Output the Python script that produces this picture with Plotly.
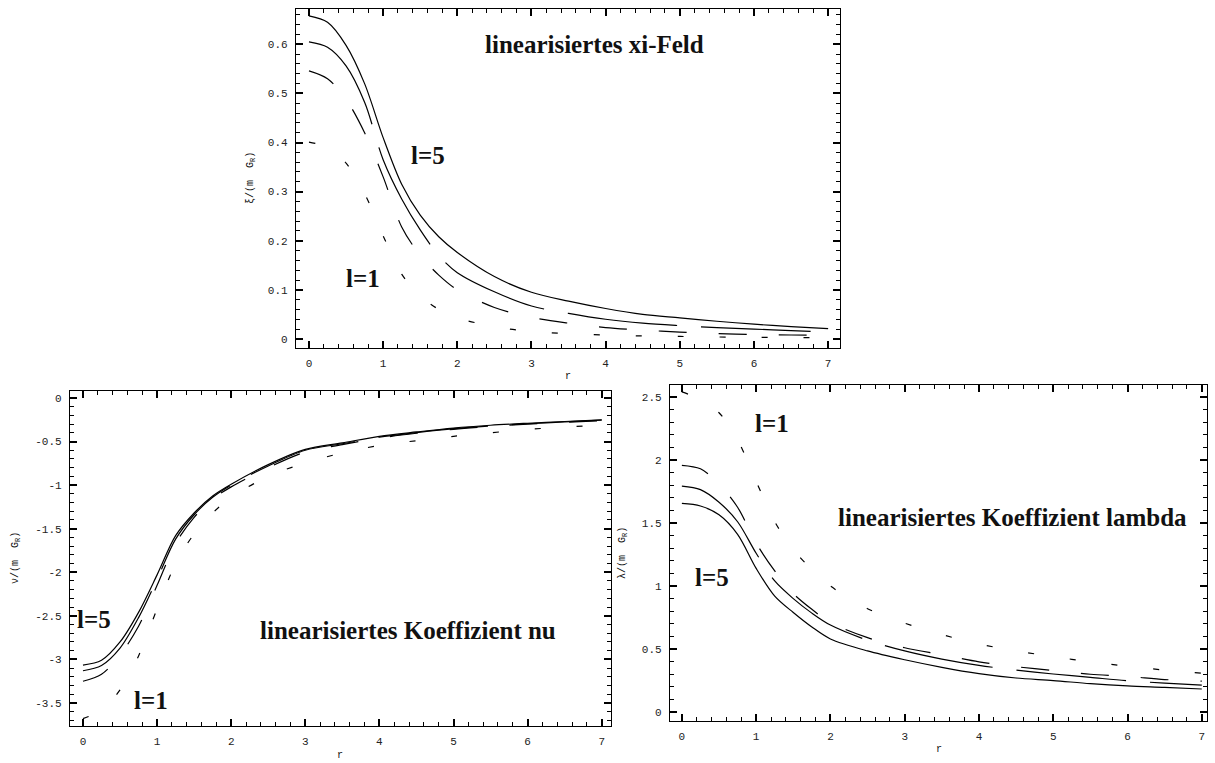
import plotly.graph_objects as go

# ---------------- data ----------------
r = [0, 0.25, 0.5, 0.75, 1, 1.25, 1.5, 1.75, 2, 2.5, 3, 3.5, 4, 4.5, 5, 5.5, 6, 6.5, 7]

# linearisiertes xi-Feld (top panel), l=5 (solid) ... l=1 (short dashes)
xi_a = [0.658, 0.645, 0.598, 0.52, 0.41, 0.315, 0.252, 0.208, 0.176, 0.127, 0.095, 0.077, 0.062, 0.050, 0.043, 0.036, 0.030, 0.025, 0.021]
xi_b = [0.605, 0.594, 0.556, 0.482, 0.365, 0.285, 0.222, 0.170, 0.135, 0.096, 0.067, 0.052, 0.040, 0.032, 0.027, 0.023, 0.020, 0.017, 0.014]
xi_c = [0.546, 0.530, 0.488, 0.42, 0.33, 0.228, 0.170, 0.130, 0.100, 0.064, 0.044, 0.032, 0.023, 0.018, 0.014, 0.011, 0.009, 0.008, 0.007]
xi_d = [0.401, 0.390, 0.358, 0.296, 0.21, 0.132, 0.088, 0.060, 0.043, 0.025, 0.015, 0.011, 0.008, 0.006, 0.005, 0.004, 0.003, 0.003, 0.002]

# linearisiertes Koeffizient nu (bottom left)
nu_a = [-3.065, -3.01, -2.80, -2.46, -2.03, -1.58, -1.32, -1.125, -0.99, -0.765, -0.59, -0.515, -0.44, -0.39, -0.345, -0.313, -0.29, -0.27, -0.25]
nu_b = [-3.13, -3.07, -2.87, -2.52, -2.08, -1.62, -1.34, -1.14, -1.00, -0.78, -0.60, -0.525, -0.45, -0.398, -0.352, -0.32, -0.296, -0.275, -0.255]
nu_c = [-3.25, -3.17, -2.95, -2.62, -2.15, -1.67, -1.37, -1.16, -1.02, -0.80, -0.62, -0.535, -0.46, -0.405, -0.36, -0.327, -0.30, -0.28, -0.26]
nu_d = [-3.68, -3.58, -3.35, -2.96, -2.42, -1.90, -1.56, -1.32, -1.14, -0.90, -0.745, -0.63, -0.545, -0.49, -0.44, -0.40, -0.36, -0.335, -0.31]

# linearisiertes Koeffizient lambda (bottom right)
la_a = [1.655, 1.635, 1.565, 1.41, 1.14, 0.92, 0.79, 0.675, 0.58, 0.485, 0.415, 0.355, 0.305, 0.27, 0.25, 0.225, 0.207, 0.196, 0.183]
la_b = [1.793, 1.765, 1.665, 1.51, 1.26, 1.04, 0.90, 0.785, 0.69, 0.57, 0.485, 0.42, 0.37, 0.333, 0.302, 0.275, 0.248, 0.23, 0.214]
la_c = [1.958, 1.93, 1.81, 1.625, 1.34, 1.12, 0.94, 0.815, 0.71, 0.59, 0.51, 0.455, 0.398, 0.36, 0.33, 0.30, 0.283, 0.258, 0.245]
la_d = [2.54, 2.48, 2.375, 2.16, 1.83, 1.51, 1.29, 1.13, 1.00, 0.82, 0.705, 0.615, 0.54, 0.485, 0.44, 0.398, 0.363, 0.333, 0.308]

x_ticks = [0, 1, 2, 3, 4, 5, 6, 7]
xi_ticks = [0, 0.1, 0.2, 0.3, 0.4, 0.5, 0.6]
xi_labels = ["0", "0.1", "0.2", "0.3", "0.4", "0.5", "0.6"]
nu_ticks = [-3.5, -3, -2.5, -2, -1.5, -1, -0.5, 0]
nu_labels = ["-3.5", "-3", "-2.5", "-2", "-1.5", "-1", "-0.5", "0"]
la_ticks = [0, 0.5, 1, 1.5, 2, 2.5]
la_labels = ["0", "0.5", "1", "1.5", "2", "2.5"]

# ---------------- figure ----------------
W, H = 1215, 763
dashes = ["solid", "110px,24px", "28px,32px", "6px,36px"]

fig = go.Figure()
panels = [
    ("x", "y", [xi_a, xi_b, xi_c, xi_d]),
    ("x2", "y2", [nu_a, nu_b, nu_c, nu_d]),
    ("x3", "y3", [la_a, la_b, la_c, la_d]),
]
for xa, ya, curves in panels:
    for vals, d in zip(curves, dashes):
        fig.add_trace(go.Scatter(x=r, y=vals, xaxis=xa, yaxis=ya, mode="lines",
                                 line=dict(color="black", width=1.2, dash=d, shape="spline", smoothing=0.9),
                                 showlegend=False, hoverinfo="skip"))

mono = "Liberation Mono, DejaVu Sans Mono, monospace"
serif = "Liberation Serif, Times New Roman, serif"


def px_dom_x(a, b):
    return [a / W, b / W]


def px_dom_y(top, bottom):
    return [1 - bottom / H, 1 - top / H]


def axis(domain, rng, tickvals, ticktext, minor_dtick, anchor):
    return dict(domain=domain, range=rng, anchor=anchor,
                showline=True, linecolor="black", linewidth=1.3, mirror="allticks",
                ticks="inside", ticklen=7, tickwidth=1.5, tickcolor="black",
                tickvals=tickvals, ticktext=ticktext,
                showgrid=False, zeroline=False, ticklabelstandoff=5,
                tickfont=dict(family=mono, size=11, color="#222"),
                minor=dict(ticks="inside", ticklen=4, tickwidth=1.4, tickcolor="black",
                           tick0=0, dtick=minor_dtick, showgrid=False))


x_lab = [str(v) for v in x_ticks]
fig.update_layout(
    width=W, height=H, margin=dict(l=0, r=0, t=0, b=0),
    paper_bgcolor="white", plot_bgcolor="white",
    xaxis=axis(px_dom_x(296, 840), [-0.175, 7.16], x_ticks, x_lab, 0.2, "y"),
    yaxis=axis(px_dom_y(9, 348), [-0.0185, 0.672], xi_ticks, xi_labels, 0.02, "x"),
    xaxis2=axis(px_dom_x(70, 611), [-0.175, 7.125], x_ticks, x_lab, 0.2, "y2"),
    yaxis2=axis(px_dom_y(391, 726), [-3.764, 0.08], nu_ticks, nu_labels, 0.1, "x2"),
    xaxis3=axis(px_dom_x(670, 1207), [-0.16, 7.07], x_ticks, x_lab, 0.2, "y3"),
    yaxis3=axis(px_dom_y(385, 721), [-0.071, 2.595], la_ticks, la_labels, 0.1, "x3"),
)

annots = [
    # (text, x px, y px, font, size, angle)
    ("linearisiertes xi-Feld", 594, 45, serif, 25, 0),
    ("l=5", 428, 156, serif, 25, 0),
    ("l=1", 363, 278, serif, 25, 0),
    ("linearisiertes Koeffizient nu", 408, 630, serif, 25, 0),
    ("l=5", 94, 619, serif, 25, 0),
    ("l=1", 151, 700, serif, 25, 0),
    ("linearisiertes Koeffizient lambda", 1012, 517, serif, 25, 0),
    ("l=1", 772, 423, serif, 25, 0),
    ("l=5", 712, 577, serif, 25, 0),
    ("r", 568, 376, mono, 10, 0),
    ("r", 340, 755, mono, 10, 0),
    ("r", 939, 749, mono, 10, 0),
    ("ξ/(m  G<sub>R</sub>)", 251, 178, mono, 10, -90),
    ("ν/(m  G<sub>R</sub>)", 16, 558, mono, 10, -90),
    ("λ/(m  G<sub>R</sub>)", 623, 553, mono, 10, -90),
]
for text, x, y, fam, size, ang in annots:
    bold = fam == serif
    fig.add_annotation(text=f"<b>{text}</b>" if bold else text,
                       x=x / W, y=1 - y / H, xref="paper", yref="paper",
                       xanchor="center", yanchor="middle", showarrow=False,
                       textangle=ang, font=dict(family=fam, size=size, color="#111"))

fig.write_html("out.html")
